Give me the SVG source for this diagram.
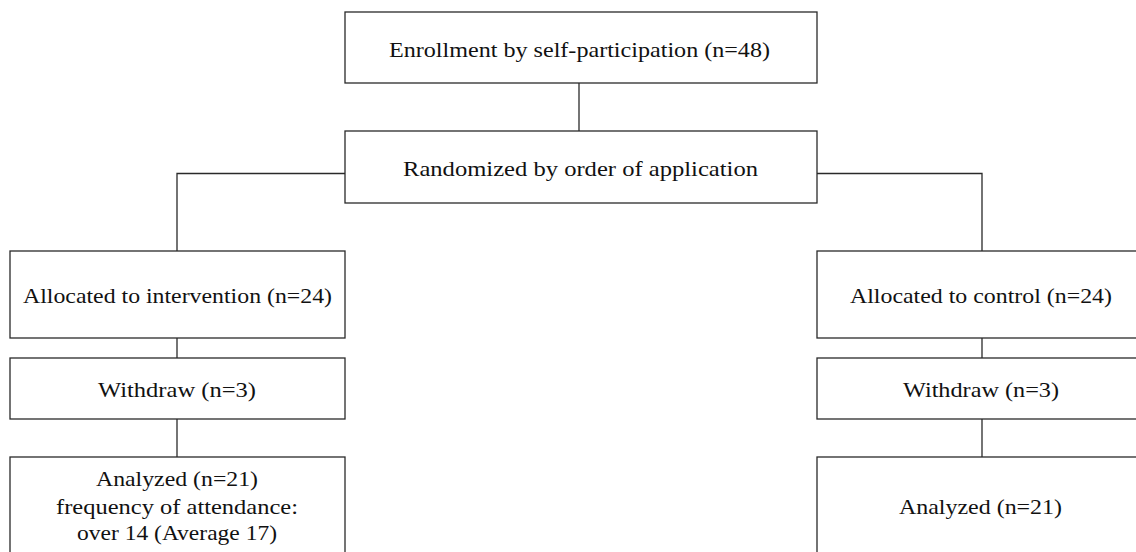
<svg xmlns="http://www.w3.org/2000/svg" width="1136" height="552" viewBox="0 0 1136 552">
<style>
.box{fill:#fff;stroke:#2a2a2a;stroke-width:1.3}
.ln{fill:none;stroke:#2a2a2a;stroke-width:1.3}
text{font-family:"Liberation Serif","Times New Roman",serif;font-size:22px;fill:#111;text-anchor:middle}
</style>
<rect width="1136" height="552" fill="#fff"/>
<g id="connectors">
<line class="ln" x1="579" y1="83" x2="579" y2="131"/>
<polyline class="ln" points="345,173.5 177,173.5 177,251"/>
<polyline class="ln" points="817,173.5 982,173.5 982,251"/>
<line class="ln" x1="177" y1="338" x2="177" y2="358"/>
<line class="ln" x1="177" y1="419" x2="177" y2="457"/>
<line class="ln" x1="982" y1="338" x2="982" y2="358"/>
<line class="ln" x1="982" y1="419" x2="982" y2="457"/>
</g>
<g id="enrollment">
<rect class="box" x="345" y="12" width="472" height="71"/>
<text x="579.5" y="57" textLength="381" lengthAdjust="spacingAndGlyphs">Enrollment by self-participation (n=48)</text>
</g>
<g id="randomized">
<rect class="box" x="345" y="131" width="472" height="72"/>
<text x="580.5" y="175.5" textLength="355" lengthAdjust="spacingAndGlyphs">Randomized by order of application</text>
</g>
<g id="alloc-intervention">
<rect class="box" x="10" y="251" width="335" height="87"/>
<text x="177.5" y="303" textLength="309" lengthAdjust="spacingAndGlyphs">Allocated to intervention (n=24)</text>
</g>
<g id="withdraw-intervention">
<rect class="box" x="10" y="358" width="335" height="61"/>
<text x="177" y="397" textLength="158" lengthAdjust="spacingAndGlyphs">Withdraw (n=3)</text>
</g>
<g id="analyzed-intervention">
<rect class="box" x="10" y="457" width="335" height="110"/>
<text x="177" y="486" textLength="162" lengthAdjust="spacingAndGlyphs">Analyzed (n=21)</text>
<text x="177" y="514" textLength="242" lengthAdjust="spacingAndGlyphs">frequency of attendance:</text>
<text x="177" y="540" textLength="200" lengthAdjust="spacingAndGlyphs">over 14 (Average 17)</text>
</g>
<g id="alloc-control">
<rect class="box" x="817" y="251" width="330" height="87"/>
<text x="981" y="303" textLength="262" lengthAdjust="spacingAndGlyphs">Allocated to control (n=24)</text>
</g>
<g id="withdraw-control">
<rect class="box" x="817" y="358" width="330" height="61"/>
<text x="981" y="397" textLength="156" lengthAdjust="spacingAndGlyphs">Withdraw (n=3)</text>
</g>
<g id="analyzed-control">
<rect class="box" x="817" y="457" width="330" height="110"/>
<text x="980.5" y="514" textLength="163" lengthAdjust="spacingAndGlyphs">Analyzed (n=21)</text>
</g>
</svg>
